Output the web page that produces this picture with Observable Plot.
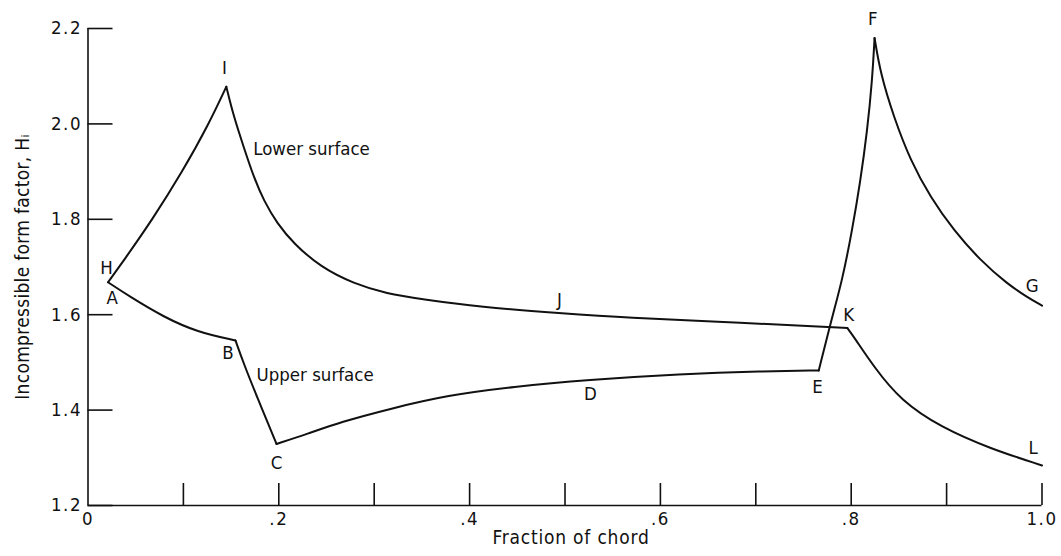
<!DOCTYPE html>
<html>
<head>
<meta charset="utf-8">
<script src="https://cdn.jsdelivr.net/npm/d3@7"></script>
<script src="https://cdn.jsdelivr.net/npm/@observablehq/plot@0.6"></script>
<style>
  html, body { margin: 0; padding: 0; background: #fff; }
  svg { display: block; }
  g[aria-label="x-axis tick label"] text, g[aria-label="y-axis tick label"] text { letter-spacing: 1.5px; }
</style>
</head>
<body>
<div id="chart"></div>
<script>
// ---- Lower surface (H -> I -> J -> K -> L) ----
const xHI = [0.021, 0.0376, 0.067, 0.0987, 0.1267, 0.145];
const yHI = [1.668, 1.714, 1.798, 1.899, 2.000, 2.078];
const xIK = [0.145, 0.1528, 0.1633, 0.1738, 0.1843, 0.1983, 0.2157, 0.2437, 0.2786, 0.3136, 0.3485, 0.411, 0.495, 0.569, 0.656, 0.768, 0.796];
const yIK = [2.078, 2.015, 1.951, 1.888, 1.839, 1.791, 1.749, 1.700, 1.665, 1.644, 1.633, 1.616, 1.603, 1.593, 1.586, 1.575, 1.572];
const xKL = [0.796, 0.803, 0.824, 0.852, 0.894, 0.946, 1.0];
const yKL = [1.572, 1.553, 1.490, 1.420, 1.364, 1.319, 1.284];

// ---- Upper surface (A -> B -> C -> D -> E -> F -> G) ----
const xAB = [0.021, 0.0445, 0.0795, 0.1145, 0.1546];
const yAB = [1.668, 1.637, 1.595, 1.5635, 1.546];
const xBC = [0.1546, 0.1633, 0.1773, 0.1976];
const yBC = [1.546, 1.497, 1.427, 1.329];
const xCE = [0.1976, 0.2298, 0.2647, 0.317, 0.3765, 0.446, 0.523, 0.621, 0.708, 0.766];
const yCE = [1.329, 1.350, 1.375, 1.403, 1.431, 1.449, 1.4635, 1.476, 1.4816, 1.483];
const xEF = [0.766, 0.780, 0.7906, 0.801, 0.8097, 0.8168, 0.822, 0.8245];
const yEF = [1.483, 1.595, 1.672, 1.777, 1.881, 1.986, 2.091, 2.180];
const xFG = [0.8245, 0.8307, 0.8447, 0.8622, 0.8831, 0.9075, 0.9355, 0.9635, 0.9845, 1.0];
const yFG = [2.180, 2.105, 2.014, 1.9225, 1.846, 1.7765, 1.7136, 1.6648, 1.6367, 1.619];

// ---- Point letters and curve names (anchored in data units) ----
const pointNames = ["H", "A", "I", "B", "C", "J", "D", "E", "K", "F", "G", "L"];
const pointX = [0.0194, 0.0254, 0.1431, 0.1468, 0.1976, 0.4942, 0.5267, 0.7647, 0.7975, 0.8226, 0.9897, 0.9908];
const pointY = [1.697, 1.634, 2.116, 1.519, 1.288, 1.630, 1.433, 1.449, 1.600, 2.219, 1.661, 1.3195];
const curveNames = ["Lower surface", "Upper surface"];
const curveNameX = [0.1732, 0.1766];
const curveNameY = [1.948, 1.474];

// ---- Axes ----
const xTickValues = [0.1, 0.2, 0.3, 0.4, 0.5, 0.6, 0.7, 0.8, 0.9, 1.0];
const xLabelValues = [0, 0.2, 0.4, 0.6, 0.8, 1.0];
const xLabels = ["0", ".2", ".4", ".6", ".8", "1.0"];
const yTickValues = [1.2, 1.4, 1.6, 1.8, 2.0, 2.2];
const yLabels = ["1.2", "1.4", "1.6", "1.8", "2.0", "2.2"];
const xTitle = "Fraction of chord";
const yTitle = "Incompressible form factor, H\u1D62";

const seg = (name, xs, ys) => xs.map((x, i) => ({seg: name, x, y: ys[i]}));
const rows = [
  ...seg("HI", xHI, yHI), ...seg("IK", xIK, yIK), ...seg("KL", xKL, yKL),
  ...seg("AB", xAB, yAB), ...seg("BC", xBC, yBC), ...seg("CE", xCE, yCE),
  ...seg("EF", xEF, yEF), ...seg("FG", xFG, yFG)
];
const points = pointNames.map((n, i) => ({n, x: pointX[i], y: pointY[i]}));
const names = curveNames.map((n, i) => ({n, x: curveNameX[i], y: curveNameY[i]}));

const ink = "#111";
const plot = Plot.plot({
  width: 1061,
  height: 556,
  marginLeft: 87.5,
  marginRight: 19.5,
  marginTop: 28,
  marginBottom: 51,
  style: {
    fontFamily: "'DejaVu Sans Condensed', 'DejaVu Sans', sans-serif",
    fontSize: "18px",
    background: "#fff",
    color: ink
  },
  x: {domain: [0, 1]},
  y: {domain: [1.2, 2.2]},
  marks: [
    // axis lines
    Plot.ruleX([0], {y1: 1.2, y2: 2.2, stroke: ink, strokeWidth: 1.6}),
    Plot.ruleY([1.2], {x1: 0, x2: 1, stroke: ink, strokeWidth: 1.6}),
    // inward ticks
    Plot.ruleX(xTickValues, {x: d => d, y1: 1.2, y2: 1.2, insetTop: -22, stroke: ink, strokeWidth: 1.6}),
    Plot.ruleY(yTickValues, {y: d => d, x1: 0, x2: 0, insetRight: -25, stroke: ink, strokeWidth: 1.6}),
    // tick labels
    Plot.axisX({ticks: xLabelValues, tickFormat: d => xLabels[xLabelValues.findIndex(v => Math.abs(v - d) < 1e-9)], tickSize: 0, tickPadding: 6, label: null, fontSize: 18.5}),
    Plot.axisY({ticks: yTickValues, tickFormat: d => yLabels[yTickValues.findIndex(v => Math.abs(v - d) < 1e-9)], tickSize: 0, tickPadding: 6, label: null, fontSize: 18.5}),
    // axis titles
    Plot.text([xTitle], {frameAnchor: "bottom", text: d => d, dy: 38, dx: 6, fontSize: 19, fill: ink}),
    Plot.text([yTitle], {frameAnchor: "left", textAnchor: "middle", text: d => d, dx: -65, rotate: -90, fontSize: 19, fill: ink}),
    // curves
    Plot.line(rows, {x: "x", y: "y", z: "seg", curve: "basis", stroke: ink, strokeWidth: 2}),
    // labels
    Plot.text(points, {x: "x", y: "y", text: "n", fontSize: 18.5, fill: ink}),
    Plot.text(names, {x: "x", y: "y", text: "n", textAnchor: "start", fontSize: 18.5, fill: ink})
  ]
});
d3.select(plot).selectAll("text")
  .filter(function () { return this.textContent === xTitle; })
  .attr("letter-spacing", "0.8");
d3.select(plot).selectAll("text")
  .filter(function () { return this.textContent === yTitle; })
  .attr("letter-spacing", "0.3");
document.getElementById("chart").appendChild(plot);
</script>
</body>
</html>
